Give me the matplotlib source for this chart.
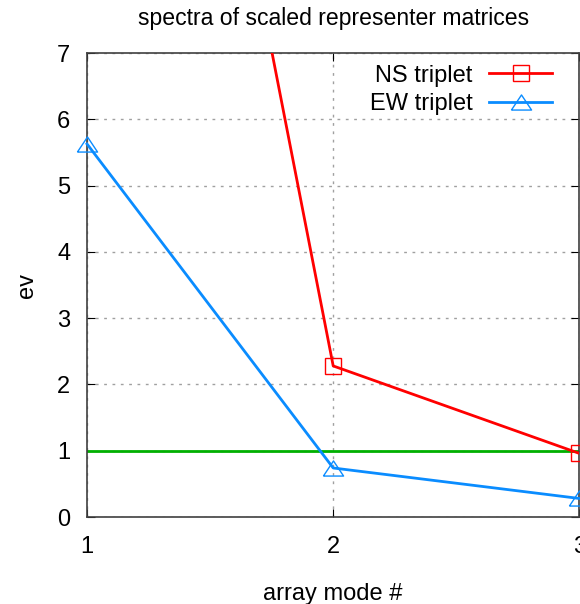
import numpy as np
import matplotlib
matplotlib.use('Agg')
import matplotlib.pyplot as plt

plt.rcParams['font.family'] = ['Liberation Sans', 'DejaVu Sans']

mode = [1, 2, 3]
ns_triplet = [21.3, 2.28, 0.96]
ew_triplet = [5.63, 0.74, 0.28]
threshold = 1.0

# gnuplot-like triangle: wider than tall
tri = [(-1, -0.75), (1, -0.75), (0, 0.75), (-1, -0.75)]

fig = plt.figure(figsize=(5.8, 6.04), dpi=100)
ax = fig.add_axes([0.15, 0.144, 0.849, 0.768])

ax.plot(mode, ns_triplet, color='#ff0000', lw=2, marker='s', ms=11.5,
        mfc='none', mec='#ff0000', mew=1, label='NS triplet', zorder=3)
ax.plot(mode, ew_triplet, color='#0a8cff', lw=2, marker=tri, ms=14.5,
        mfc='none', mec='#0a8cff', mew=1, label='EW triplet', clip_on=False, zorder=3)
ax.axhline(threshold, color='#00b000', lw=2, zorder=2)

ax.set_xlim(1, 3)
ax.set_ylim(0, 7)
ax.set_xticks([1, 2, 3])
ax.set_yticks(range(0, 8))
ax.grid(True, color='#a0a0a0', linestyle=(0, (2, 4)), lw=1)
ax.tick_params(direction='in', top=True, right=True, length=6, labelsize=17)
ax.tick_params(axis='x', pad=14)
ax.tick_params(axis='y', pad=12)
for s in ax.spines.values():
    s.set_color('#404040')
    s.set_linewidth(1.2)

ax.set_title('spectra of scaled representer matrices', fontsize=16.6, pad=20)
ax.set_xlabel('array mode #', fontsize=17, labelpad=18)
ax.set_ylabel('ev', fontsize=17, labelpad=14)

leg = ax.legend(loc='upper right', frameon=False, markerfirst=False, fontsize=17,
                handlelength=2.67, handletextpad=0.7, borderpad=0, borderaxespad=0,
                labelspacing=0.27, bbox_to_anchor=(0.945, 0.975))

plt.savefig('out.png', dpi=100)
